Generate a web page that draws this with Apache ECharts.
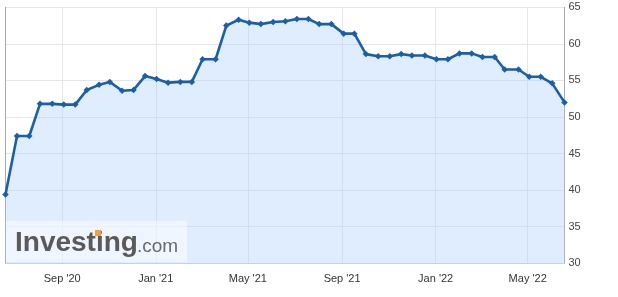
<!DOCTYPE html>
<html>
<head>
<meta charset="utf-8">
<script src="https://cdn.jsdelivr.net/npm/echarts@6/dist/echarts.min.js"></script>
<style>html,body{margin:0;padding:0;background:#fff}#c{width:618px;height:297px}</style>
</head>
<body>
<div id="c"></div>
<script>
var dates = ['2020-06-19','2020-07-04','2020-07-20','2020-08-03','2020-08-19','2020-09-03','2020-09-18','2020-10-03','2020-10-19','2020-11-02','2020-11-18','2020-12-03','2020-12-18',
'2021-01-02','2021-01-17','2021-02-02','2021-02-17','2021-03-03','2021-03-20','2021-04-03','2021-04-19','2021-05-03','2021-05-18','2021-06-03','2021-06-19','2021-07-04','2021-07-19','2021-08-02','2021-08-18','2021-09-03','2021-09-17','2021-10-02','2021-10-18','2021-11-02','2021-11-17','2021-12-01','2021-12-18',
'2022-01-02','2022-01-17','2022-02-01','2022-02-17','2022-03-03','2022-03-19','2022-04-01','2022-04-19','2022-05-03','2022-05-18','2022-06-02','2022-06-18'];
var values = [39.4,47.4,47.4,51.8,51.8,51.7,51.7,53.7,54.4,54.8,53.6,53.7,55.6,
55.2,54.7,54.8,54.8,57.9,57.9,62.5,63.3,62.9,62.7,63.0,63.1,63.4,63.4,62.7,62.7,61.4,61.4,58.6,58.3,58.3,58.6,58.4,58.4,
57.9,57.9,58.7,58.7,58.2,58.2,56.5,56.5,55.5,55.5,54.6,52.0];
var xTickDates = ['2020-09-01','2021-01-01','2021-05-01','2021-09-01','2022-01-01','2022-05-01'];
var xTickLabels = ["Sep '20","Jan '21","May '21","Sep '21","Jan '22","May '22"];
var yMin = 30, yMax = 65, yStep = 5;

var DAY = 86400000;
var base = Date.UTC(2020,0,1);
function dayNum(s){ var p = s.split('-'); return Math.round((Date.UTC(+p[0], +p[1]-1, +p[2]) - base)/DAY); }
var tickDays = xTickDates.map(dayNum);
var seriesData = dates.map(function(d,i){ return [dayNum(d), values[i]]; });

var chart = echarts.init(document.getElementById('c'), null, {renderer:'canvas'});
chart.setOption({
  animation:false,
  backgroundColor:'#ffffff',
  grid:{left:5.5, right:53.5, top:7.3, bottom:33.7},
  xAxis:{
    type:'value',
    min:dayNum(dates[0]), max:dayNum(dates[dates.length-1]),
    axisLine:{show:true, onZero:false, lineStyle:{color:'#c5d3e2', width:1}},
    axisTick:{show:false, customValues:tickDays},
    axisLabel:{customValues:tickDays, margin:10, fontSize:11, color:'#333', fontFamily:'Arial, Liberation Sans, sans-serif',
      formatter:function(v){ var i = tickDays.indexOf(Math.round(v)); return i>=0 ? xTickLabels[i] : ''; }},
    splitLine:{show:true, lineStyle:{color:'#e6e6e6', width:1}}
  },
  yAxis:[{
    type:'value', position:'right', min:yMin, max:yMax, interval:yStep,
    axisLine:{show:true, lineStyle:{color:'#aaaaaa', width:1}},
    axisTick:{show:false},
    axisLabel:{margin:4, fontSize:11, color:'#444', fontFamily:'Arial, Liberation Sans, sans-serif'},
    splitLine:{show:true, lineStyle:{color:'#e6e6e6', width:1}}
  },{
    type:'value', position:'left', min:yMin, max:yMax, interval:yStep,
    axisLine:{show:true, lineStyle:{color:'#aaaaaa', width:1}},
    axisTick:{show:false}, axisLabel:{show:false}, splitLine:{show:false}
  }],
  series:[{
    type:'line', yAxisIndex:0, data:seriesData,
    symbol:'diamond', symbolSize:6.5, showSymbol:true,
    itemStyle:{color:'#1b5fa6'},
    lineStyle:{color:'#1b5fa6', width:2.6},
    areaStyle:{color:'rgba(180,213,253,0.6)', origin:'start'}
  }],
  graphic:[
    {type:'rect', z:100, shape:{x:6, y:221, width:181, height:41}, style:{fill:'rgba(255,255,255,0.5)'}},
    {type:'text', z:101, x:15, y:257.5, style:{text:'Investing', font:'bold 28px Arial, "Liberation Sans", sans-serif', fill:'#5a5a5a', textVerticalAlign:'bottom'}},
    {type:'text', z:101, x:137, y:255.8, style:{text:'.com', font:'19px Arial, "Liberation Sans", sans-serif', fill:'#6a6a6a', textVerticalAlign:'bottom'}},
    {type:'rect', z:102, shape:{x:95, y:230, width:6, height:6}, style:{fill:'#f0a040'}}
  ]
});
</script>
</body>
</html>
